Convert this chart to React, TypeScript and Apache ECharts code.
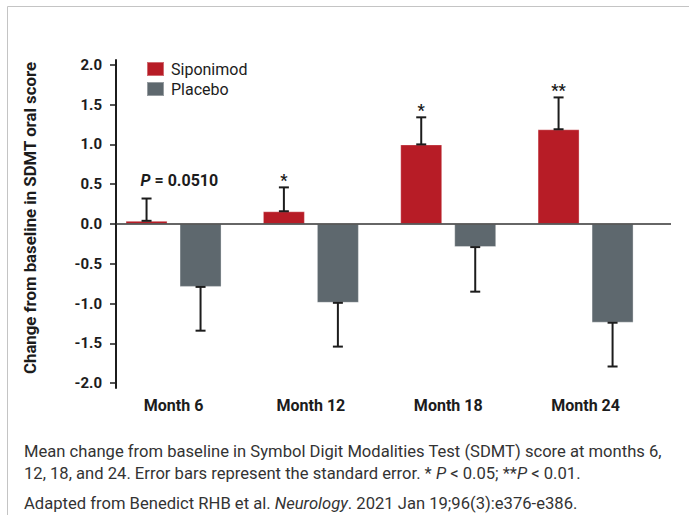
import React, { useEffect, useRef } from "react";
import * as echarts from "echarts";

const categories = ["Month 6", "Month 12", "Month 18", "Month 24"];
const siponimodMean = [0.04, 0.16, 1.0, 1.19];
const siponimodSE = [0.28, 0.3, 0.34, 0.4];
const placeboMean = [-0.79, -0.99, -0.29, -1.24];
const placeboSE = [0.55, 0.55, 0.56, 0.55];
const sigLabels = ["P = 0.0510", "*", "*", "**"];
const yTicks = [-2, -1.5, -1, -0.5, 0, 0.5, 1, 1.5, 2];
const seriesNames = ["Siponimod", "Placebo"];
const captionLine1 =
  "Mean change from baseline in Symbol Digit Modalities Test (SDMT) score at months 6,";
const captionLine2 =
  "12, 18, and 24. Error bars represent the standard error. * {i|P} < 0.05; **{i|P} < 0.01.";
const captionLine3 =
  "Adapted from Benedict RHB et al. {i|Neurology}. 2021 Jan 19;96(3):e376-e386.";

const FONT = "Roboto, 'Noto Sans', sans-serif";
const RED = "#b71c26";
const GRAY = "#5e686e";
const INK = "#1c1c1c";
const BAR_W = 42;
const BAR_GAP = 12;
const OFF = (BAR_W + BAR_GAP) / 2;

export default function App() {
  const ref = useRef<HTMLDivElement>(null);
  useEffect(() => {
    if (!ref.current) return;
    const chart = echarts.init(ref.current, null, { renderer: "svg" });
    const xs = categories.map((_, i) => i + 1);

    const errRender = (offset: number, withLabels: boolean) => (params: any, api: any) => {
      const x = api.value(0);
      const m = api.value(1);
      const e = api.value(2);
      const p0 = api.coord([x, m]);
      const p1 = api.coord([x, e]);
      const cx = p0[0] + offset;
      const style = { stroke: INK, lineWidth: 2 };
      const children: any[] = [
        { type: "line", shape: { x1: cx, y1: p0[1], x2: cx, y2: p1[1] }, style },
        { type: "line", shape: { x1: cx - 5, y1: p0[1], x2: cx + 5, y2: p0[1] }, style },
        { type: "line", shape: { x1: cx - 5, y1: p1[1], x2: cx + 5, y2: p1[1] }, style },
      ];
      if (withLabels) {
        const lab = sigLabels[params.dataIndex];
        if (lab.startsWith("P")) {
          children.push({
            type: "text",
            x: cx - 6,
            y: p1[1] - 18,
            style: {
              text: "{i|P}" + lab.slice(1),
              fontFamily: FONT,
              fontWeight: "bold",
              fontSize: 16,
              fill: INK,
              align: "left",
              verticalAlign: "middle",
              rich: {
                i: { fontStyle: "italic", fontWeight: "bold", fontSize: 16, fontFamily: FONT, fill: INK },
              },
            },
          });
        } else {
          children.push({
            type: "text",
            x: cx,
            y: p1[1] - 7,
            style: {
              text: lab,
              fontFamily: FONT,
              fontWeight: "bold",
              fontSize: 16,
              fill: INK,
              align: "center",
              verticalAlign: "middle",
            },
          });
        }
      }
      return { type: "group", children };
    };

    const capStyle = { fontFamily: FONT, fontSize: 16.6, fill: "#333333", verticalAlign: "middle" };
    const capRich = { i: { fontStyle: "italic", fontFamily: FONT, fontSize: 16.6, fill: "#333333" } };

    chart.setOption({
      animation: false,
      backgroundColor: "#ffffff",
      textStyle: { fontFamily: FONT },
      grid: { left: 116, right: 18, top: 60, bottom: 127 },
      legend: {
        data: seriesNames,
        orient: "vertical",
        left: 141,
        top: 56,
        itemWidth: 17,
        itemHeight: 14,
        itemGap: 4,
        icon: "rect",
        textStyle: { fontSize: 16, color: INK, fontFamily: FONT, padding: [0, 0, 0, 2] },
      },
      xAxis: {
        type: "value",
        min: 0.581,
        max: 4.622,
        axisLine: { show: false, onZero: false },
        axisTick: { show: false },
        splitLine: { show: false },
        axisLabel: {
          customValues: xs,
          formatter: (v: number) => categories[Math.round(v) - 1] ?? "",
          fontSize: 16,
          fontWeight: "bold",
          color: INK,
          fontFamily: FONT,
          margin: 9,
        },
      },
      yAxis: {
        type: "value",
        min: -2.06,
        max: 2.06,
        name: "Change from baseline in SDMT oral score",
        nameLocation: "middle",
        nameGap: 78,
        nameTextStyle: { fontSize: 16.8, fontWeight: "bold", color: INK, fontFamily: FONT, padding: [0, 0, 0, 12] },
        axisLine: { show: true, lineStyle: { color: INK, width: 2 } },
        axisTick: { show: true, customValues: yTicks, length: 6, lineStyle: { color: INK, width: 1.5 } },
        splitLine: { show: false },
        axisLabel: {
          customValues: yTicks,
          formatter: (v: number) => v.toFixed(1),
          fontSize: 15,
          fontWeight: "bold",
          color: INK,
          fontFamily: FONT,
          margin: 14,
        },
      },
      series: [
        {
          name: seriesNames[0],
          type: "bar",
          barWidth: BAR_W,
          barGap: (BAR_GAP / BAR_W) * 100 + "%",
          itemStyle: { color: RED, borderColor: "rgba(255,255,255,0.35)", borderWidth: 1 },
          data: xs.map((x, i) => [x, siponimodMean[i]]),
          z: 2,
        },
        {
          name: seriesNames[1],
          type: "bar",
          barWidth: BAR_W,
          itemStyle: { color: GRAY, borderColor: "rgba(255,255,255,0.35)", borderWidth: 1 },
          data: xs.map((x, i) => [x, placeboMean[i]]),
          z: 2,
          markLine: {
            silent: true,
            symbol: "none",
            label: { show: false },
            lineStyle: { color: "#333333", width: 1.5, type: "solid" },
            data: [{ yAxis: 0 }],
            z: 5,
          },
        },
        {
          type: "custom",
          name: "sipErr",
          renderItem: errRender(-OFF, true),
          data: xs.map((x, i) => [x, siponimodMean[i], siponimodMean[i] + siponimodSE[i]]),
          z: 4,
          silent: true,
        },
        {
          type: "custom",
          name: "plaErr",
          renderItem: errRender(OFF, false),
          data: xs.map((x, i) => [x, placeboMean[i], placeboMean[i] - placeboSE[i]]),
          z: 4,
          silent: true,
        },
      ],
      graphic: [
        {
          type: "rect",
          silent: true,
          shape: { x: 7.5, y: 6.5, width: 760, height: 560 },
          style: { fill: "none", stroke: "#c4c4c4", lineWidth: 1 },
        },
        { type: "text", x: 24, y: 451, style: { ...capStyle, text: captionLine1 } },
        { type: "text", x: 24, y: 473, style: { ...capStyle, text: captionLine2, rich: capRich } },
        { type: "text", x: 24, y: 503, style: { ...capStyle, text: captionLine3, rich: capRich } },
      ],
    });
    return () => chart.dispose();
  }, []);
  return (
    <div
      ref={ref}
      style={{ position: "absolute", left: 0, top: 0, width: 689, height: 515, background: "#fff" }}
    />
  );
}
